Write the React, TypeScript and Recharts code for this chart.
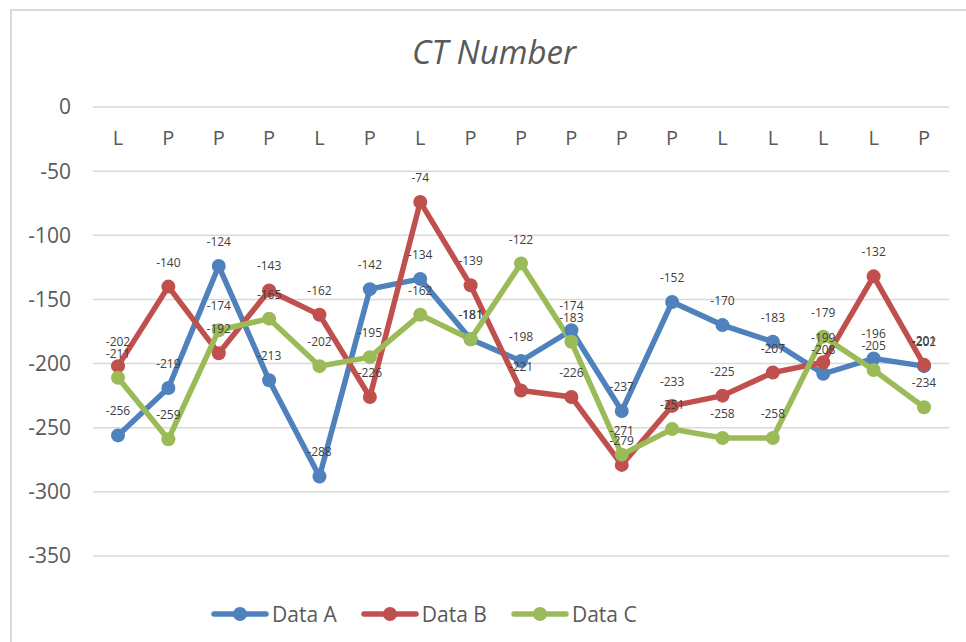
import React from 'react';
import { LineChart, Line, XAxis, YAxis, CartesianGrid, Legend, LabelList } from 'recharts';

const categories = ['L', 'P', 'P', 'P', 'L', 'P', 'L', 'P', 'P', 'P', 'P', 'P', 'L', 'L', 'L', 'L', 'P'];
const dataA = [-256, -219, -124, -213, -288, -142, -134, -181, -198, -174, -237, -152, -170, -183, -208, -196, -202];
const dataB = [-202, -140, -192, -143, -162, -226, -74, -139, -221, -226, -279, -233, -225, -207, -199, -132, -201];
const dataC = [-211, -259, -174, -165, -202, -195, -162, -181, -122, -183, -271, -251, -258, -258, -179, -205, -234];
const yTicks = [0, -50, -100, -150, -200, -250, -300, -350];

const seriesNames = ['Data A', 'Data B', 'Data C'];
const colors = ['#4F81BD', '#C0504D', '#9BBB59'];

const data = categories.map((c, i) => ({ cat: c, a: dataA[i], b: dataB[i], c: dataC[i] }));

const LegendContent = (props: any) => {
  const { payload } = props;
  return (
    <div style={{ display: 'flex', justifyContent: 'flex-start', alignItems: 'center', height: 40, paddingLeft: 211 }}>
      {(payload || []).map((p: any, i: number) => (
        <div key={i} style={{ display: 'flex', alignItems: 'center', marginRight: 24 }}>
          <svg width={58} height={16} style={{ marginRight: 3 }}>
            <line x1={3} y1={8} x2={55} y2={8} stroke={p.color} strokeWidth={5.5} strokeLinecap="round" />
            <circle cx={29} cy={8} r={7} fill={p.color} />
          </svg>
          <span style={{ fontSize: 21, color: '#595959' }}>{p.value}</span>
        </div>
      ))}
    </div>
  );
};

export default function App() {
  return (
    <div style={{ position: 'absolute', left: 0, top: 0, width: 966, height: 642, background: '#fff', fontFamily: '"Open Sans", sans-serif', overflow: 'hidden' }}>
      <div style={{ position: 'absolute', left: 10, top: 9, width: 956, height: 633, borderLeft: '2px solid #d9d9d9', borderTop: '2px solid #d9d9d9' }} />
      <div style={{ position: 'absolute', left: 0, width: 988, top: 31, textAlign: 'center', fontSize: 33, fontStyle: 'italic', color: '#595959', lineHeight: '42px' }}>
        CT Number
      </div>
      <div style={{ position: 'absolute', left: 0, top: 0 }}>
        <LineChart width={966} height={642} data={data} margin={{ top: 107, right: 17, bottom: 46, left: 0 }}>
          <CartesianGrid vertical={false} stroke="#d9d9d9" strokeWidth={1.5} />
          <XAxis
            dataKey="cat"
            orientation="top"
            mirror
            axisLine={false}
            tickLine={false}
            tickSize={0}
            tickMargin={24}
            padding={{ left: 25, right: 25 }}
            tick={{ fill: '#595959', fontSize: 20 }}
            interval={0}
            allowDuplicatedCategory
          />
          <YAxis
            domain={[-350, 0]}
            ticks={yTicks}
            axisLine={false}
            tickLine={false}
            tickSize={0}
            tickMargin={22}
            width={93}
            tick={{ fill: '#595959', fontSize: 21 }}
            interval={0}
          />
          <Line dataKey="a" name={seriesNames[0]} stroke={colors[0]} strokeWidth={5.5} dot={{ r: 7, fill: colors[0], stroke: colors[0], strokeWidth: 0 }} isAnimationActive={false}>
            <LabelList dataKey="a" position="top" offset={20} fontSize={12} fill="#404040" />
          </Line>
          <Line dataKey="b" name={seriesNames[1]} stroke={colors[1]} strokeWidth={5.5} dot={{ r: 7, fill: colors[1], stroke: colors[1], strokeWidth: 0 }} isAnimationActive={false}>
            <LabelList dataKey="b" position="top" offset={20} fontSize={12} fill="#404040" />
          </Line>
          <Line dataKey="c" name={seriesNames[2]} stroke={colors[2]} strokeWidth={5.5} dot={{ r: 7, fill: colors[2], stroke: colors[2], strokeWidth: 0 }} isAnimationActive={false}>
            <LabelList dataKey="c" position="top" offset={20} fontSize={12} fill="#404040" />
          </Line>
          <Legend verticalAlign="bottom" content={<LegendContent />} wrapperStyle={{ bottom: 8, left: 0, width: 966 }} />
        </LineChart>
      </div>
    </div>
  );
}
